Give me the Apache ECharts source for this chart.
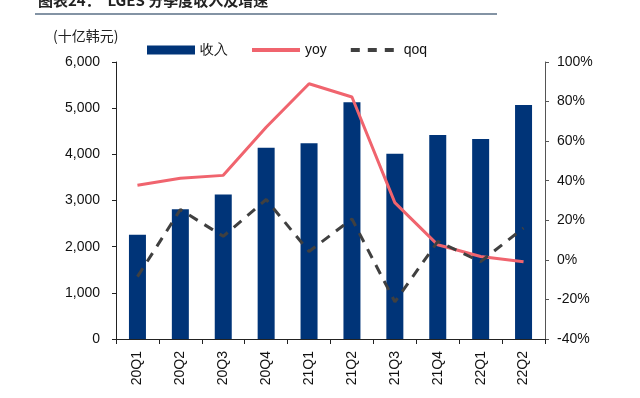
<!DOCTYPE html>
<html>
<head>
<meta charset="utf-8">
<script src="https://cdn.jsdelivr.net/npm/echarts@6/dist/echarts.min.js"></script>
<style>
html,body{margin:0;padding:0;background:#fff;}
#main{width:640px;height:398px;}
</style>
</head>
<body>
<div id="main"></div>
<script>
// 数据
var quarters = ['20Q1','20Q2','20Q3','20Q4','21Q1','21Q2','21Q3','21Q4','22Q1','22Q2'];
var revenue = [2260, 2810, 3130, 4140, 4240, 5130, 4010, 4420, 4330, 5070];
var yoy = [37.7, 41.2, 42.7, 67, 89, 82.3, 28.9, 7.6, 1.7, -0.9];
var qoq = [-8.5, 25.4, 11.9, 30.5, 4.2, 20.7, -21.2, 9.3, -0.9, 16.1];

var myChart = echarts.init(document.getElementById('main'));
var font = 'Liberation Sans, Arial, sans-serif';

var option = {
    animation: false,
    textStyle: {fontFamily: font},
    graphic: [
        {
            type: 'text', left: 38, top: -7,
            style: {text: '图表24：  LGES 分季度收入及增速', font: 'bold 15px "Noto Sans CJK SC", sans-serif', fill: '#222'}
        },
        {
            type: 'line', shape: {x1: 35, y1: 14, x2: 497, y2: 14},
            style: {stroke: '#5a6f86', lineWidth: 1.5}
        },
        {
            type: 'text', left: 53, top: 29,
            style: {text: '(十亿韩元)', font: '14px "Noto Sans CJK SC", sans-serif', fill: '#222'}
        }
    ],
    legend: {
        top: 38, left: 142,
        itemGap: 22,
        itemWidth: 48, itemHeight: 9,
        textStyle: {fontSize: 14, color: '#111', fontFamily: font},
        data: [
            {name: '收入', icon: 'rect'},
            {name: 'yoy', itemStyle: {opacity: 0}, lineStyle: {width: 4}},
            {name: 'qoq', itemStyle: {opacity: 0}, lineStyle: {width: 4, type: [9, 8]}}
        ]
    },
    grid: {left: 116, right: 95, top: 62, bottom: 59},
    xAxis: {
        type: 'category',
        data: quarters,
        axisLine: {lineStyle: {color: '#222'}},
        axisTick: {show: true, inside: false, length: 5, lineStyle: {color: '#222'}},
        axisLabel: {rotate: 90, fontSize: 14, color: '#111', margin: 12}
    },
    yAxis: [
        {
            type: 'value', min: 0, max: 6000, interval: 1000,
            splitLine: {show: false},
            axisLine: {show: true, lineStyle: {color: '#222'}},
            axisTick: {show: true, length: 4, lineStyle: {color: '#222'}},
            axisLabel: {
                fontSize: 14, color: '#111', margin: 16,
                formatter: function (v) { return v.toLocaleString('en-US'); }
            }
        },
        {
            type: 'value', min: -40, max: 100, interval: 20,
            splitLine: {show: false},
            axisLine: {show: true, lineStyle: {color: '#555'}},
            axisTick: {show: true, length: 4, lineStyle: {color: '#555'}},
            axisLabel: {fontSize: 14, color: '#111', margin: 12, formatter: '{value}%'}
        }
    ],
    series: [
        {
            name: '收入', type: 'bar', data: revenue,
            barWidth: 17,
            itemStyle: {color: '#003478'}
        },
        {
            name: 'yoy', type: 'line', yAxisIndex: 1, data: yoy,
            symbol: 'none',
            lineStyle: {color: '#f0646e', width: 3},
            itemStyle: {color: '#f0646e'}
        },
        {
            name: 'qoq', type: 'line', yAxisIndex: 1, data: qoq,
            symbol: 'none',
            lineStyle: {color: '#404040', width: 3, type: [10, 8]},
            itemStyle: {color: '#404040'}
        }
    ]
};
myChart.setOption(option);
</script>
</body>
</html>
